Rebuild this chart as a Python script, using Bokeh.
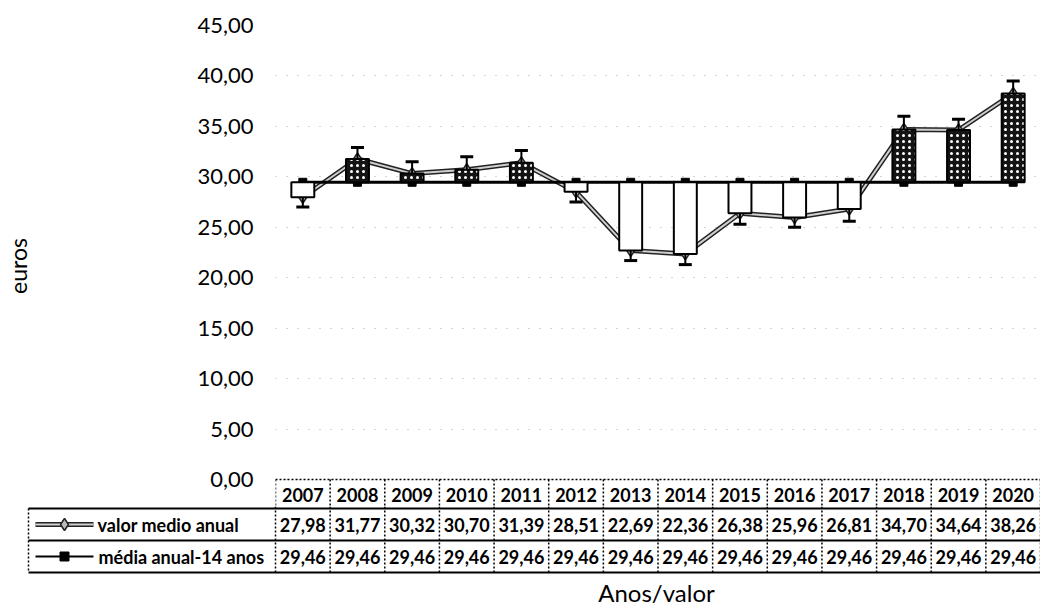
from bokeh.plotting import figure
from bokeh.models import Range1d, FixedTicker, ColumnDataSource, CustomJSTickFormatter
from bokeh.embed import file_html
from bokeh.resources import INLINE
from bokeh.core.properties import value

# ---------------- data ----------------
years = ["2007", "2008", "2009", "2010", "2011", "2012", "2013",
         "2014", "2015", "2016", "2017", "2018", "2019", "2020"]
valor_medio_anual = [27.98, 31.77, 30.32, 30.70, 31.39, 28.51, 22.69,
                     22.36, 26.38, 25.96, 26.81, 34.70, 34.64, 38.26]
media_anual_14 = [29.46, 29.46, 29.46, 29.46, 29.46, 29.46, 29.46,
                  29.46, 29.46, 29.46, 29.46, 29.46, 29.46, 29.46]
# error-bar end points
erro_fim = [27.0, 32.9, 31.5, 32.0, 32.6, 27.5, 21.7,
            21.3, 25.3, 25.0, 25.6, 36.0, 35.7, 39.5]
series_names = ["valor medio anual", "média anual-14 anos"]
y_ticks = [0, 5, 10, 15, 20, 25, 30, 35, 40, 45]
y_title = "euros"
x_title = "Anos/valor"

# ---------------- layout constants (canvas px) ----------------
W = 1040
H1 = 506                      # chart figure height
H2 = 607 - H1                 # table figure height
FL, FT = 275, 25              # chart frame left / top
Y_ZERO_PX = 479               # where 0 sits
N = len(years)
pxx = (W - FL) / N
pxy = (Y_ZERO_PX - FT) / 45.0
Y0 = -(H1 - Y_ZERO_PX) / pxy


def X(px):
    """canvas x pixel -> category units"""
    return (px - FL) / pxx


FONT = "Lato"
fmt = lambda v: f"{v:.2f}".replace(".", ",")

# ================= chart figure =================
p = figure(width=W, height=H1, x_range=Range1d(0, N), y_range=Range1d(Y0, 45),
           output_backend="svg", toolbar_location=None, x_axis_location=None,
           min_border_left=FL, min_border_right=0, min_border_top=FT,
           min_border_bottom=0)
p.background_fill_color = "white"
p.border_fill_color = "white"
p.outline_line_color = None

ax = p.yaxis[0]
ax.ticker = FixedTicker(ticks=y_ticks)
ax.formatter = CustomJSTickFormatter(code="return tick.toFixed(2).replace('.', ',');")
ax.axis_line_color = None
ax.major_tick_line_color = None
ax.minor_tick_line_color = None
ax.major_tick_out = 0
ax.major_tick_in = 0
ax.minor_tick_out = 0
ax.major_label_standoff = 22
ax.major_label_text_font = FONT
ax.major_label_text_font_size = "22px"
ax.major_label_text_color = "black"
ax.axis_label = y_title
ax.axis_label_text_font = FONT
ax.axis_label_text_font_style = "normal"
ax.axis_label_text_font_size = "23px"
ax.axis_label_text_color = "black"
ax.axis_label_standoff = 162

p.xgrid.grid_line_color = None
p.ygrid.ticker = FixedTicker(ticks=y_ticks)
p.ygrid.grid_line_color = "#a8a8a8"
p.ygrid.grid_line_dash = "1 10"
p.ygrid.grid_line_width = 1

xc = [i + 0.5 for i in range(N)]
up = [v >= m for v, m in zip(valor_medio_anual, media_anual_14)]
src = ColumnDataSource(dict(
    x=xc, valor=valor_medio_anual, media=media_anual_14, erro=erro_fim,
    top=[max(v, m) for v, m in zip(valor_medio_anual, media_anual_14)],
    bottom=[min(v, m) for v, m in zip(valor_medio_anual, media_anual_14)],
    fill=["#141414" if u else "white" for u in up],
    hatch=["dot" if u else " " for u in up],
))

# value line (double line) + markers
p.line("x", "valor", source=src, line_color="#222222", line_width=5)
p.line("x", "valor", source=src, line_color="#cfcfcf", line_width=2)
p.scatter("x", "valor", source=src, marker="diamond", size=12,
          fill_color="#bbbbbb", line_color="#222222", line_width=1.5)
# 14-year mean line + markers
p.line("x", "media", source=src, line_color="black", line_width=3)
p.scatter("x", "media", source=src, marker="square", size=8,
          fill_color="black", line_color="black")

# up/down bars
p.vbar(x="x", width=0.42, top="top", bottom="bottom", source=src,
       fill_color="fill", line_color="black", line_width=2,
       hatch_pattern="hatch", hatch_color="white", hatch_scale=6, hatch_weight=1)

# error bars
p.segment(x0="x", y0="valor", x1="x", y1="erro", source=src,
          line_color="black", line_width=2)
p.scatter("x", "erro", source=src, marker="dash", size=13,
          line_color="black", line_width=3)

# table header row (years) inside chart figure
hdr_y = -(494 - Y_ZERO_PX) / pxy
tsrc = ColumnDataSource(dict(
    x=xc, year=years,
    v1=[fmt(v) for v in valor_medio_anual],
    v2=[fmt(v) for v in media_anual_14],
))
p.text(x="x", y=hdr_y, text="year", source=tsrc, text_align="center",
       text_baseline="middle", text_font=value(FONT), text_font_style="bold",
       text_font_size="18px", text_color="black")
cols = list(range(N + 1))
p.segment(x0=cols, y0=[0] * len(cols), x1=cols, y1=[Y0] * len(cols),
          line_color="black", line_width=1.5, line_dash="2 2")
p.segment(x0=[0], y0=[0], x1=[N], y1=[0], line_color="black", line_width=1.5,
          line_dash="2 2")

# ================= table figure (rows + legend keys) =================
t = figure(width=W, height=H2, x_range=Range1d(X(0), N), y_range=Range1d(607, H1),
           output_backend="svg", toolbar_location=None,
           x_axis_location=None, y_axis_location=None,
           min_border_left=0, min_border_right=0, min_border_top=0,
           min_border_bottom=0)
t.background_fill_color = "white"
t.border_fill_color = "white"
t.outline_line_color = None
t.grid.grid_line_color = None

row_lines = [508, 540, 572]
row_centres = [524, 556]
left_edge = X(28)

t.segment(x0=[left_edge] * 3, y0=row_lines, x1=[N] * 3, y1=row_lines,
          line_color="black", line_width=2)
t.segment(x0=cols, y0=[H1] * len(cols), x1=cols, y1=[row_lines[-1]] * len(cols),
          line_color="black", line_width=1.5, line_dash="2 2")
t.segment(x0=[left_edge], y0=[row_lines[0]], x1=[left_edge], y1=[row_lines[-1]],
          line_color="black", line_width=1.5, line_dash="2 2")

for col, yy in zip(("v1", "v2"), row_centres):
    t.text(x="x", y=yy, text=col, source=tsrc, text_align="center",
           text_baseline="middle", text_font=value(FONT), text_font_style="bold",
           text_font_size="18px", text_color="black")

# legend keys
ya, yb = row_centres
t.line([X(35), X(93)], [ya, ya], line_color="#222222", line_width=5)
t.line([X(35), X(93)], [ya, ya], line_color="#cfcfcf", line_width=2)
t.scatter([X(64)], [ya], marker="diamond", size=12, fill_color="#bbbbbb",
          line_color="#222222", line_width=1.5)
t.line([X(35), X(93)], [yb, yb], line_color="black", line_width=2)
t.scatter([X(64)], [yb], marker="square", size=9, fill_color="black",
          line_color="black")
t.text(x=[X(97), X(98)], y=row_centres, text=series_names, text_align="left",
       text_baseline="middle", text_font=value(FONT), text_font_style="bold",
       text_font_size="18px", text_color="black")

# x axis title
t.text(x=[X(656)], y=[592], text=[x_title], text_align="center",
       text_baseline="middle", text_font=value(FONT), text_font_size="24px",
       text_color="black")

# two independent roots, stacked in normal page flow (no frame alignment)
open("out.html", "w").write(file_html([p, t], INLINE))
